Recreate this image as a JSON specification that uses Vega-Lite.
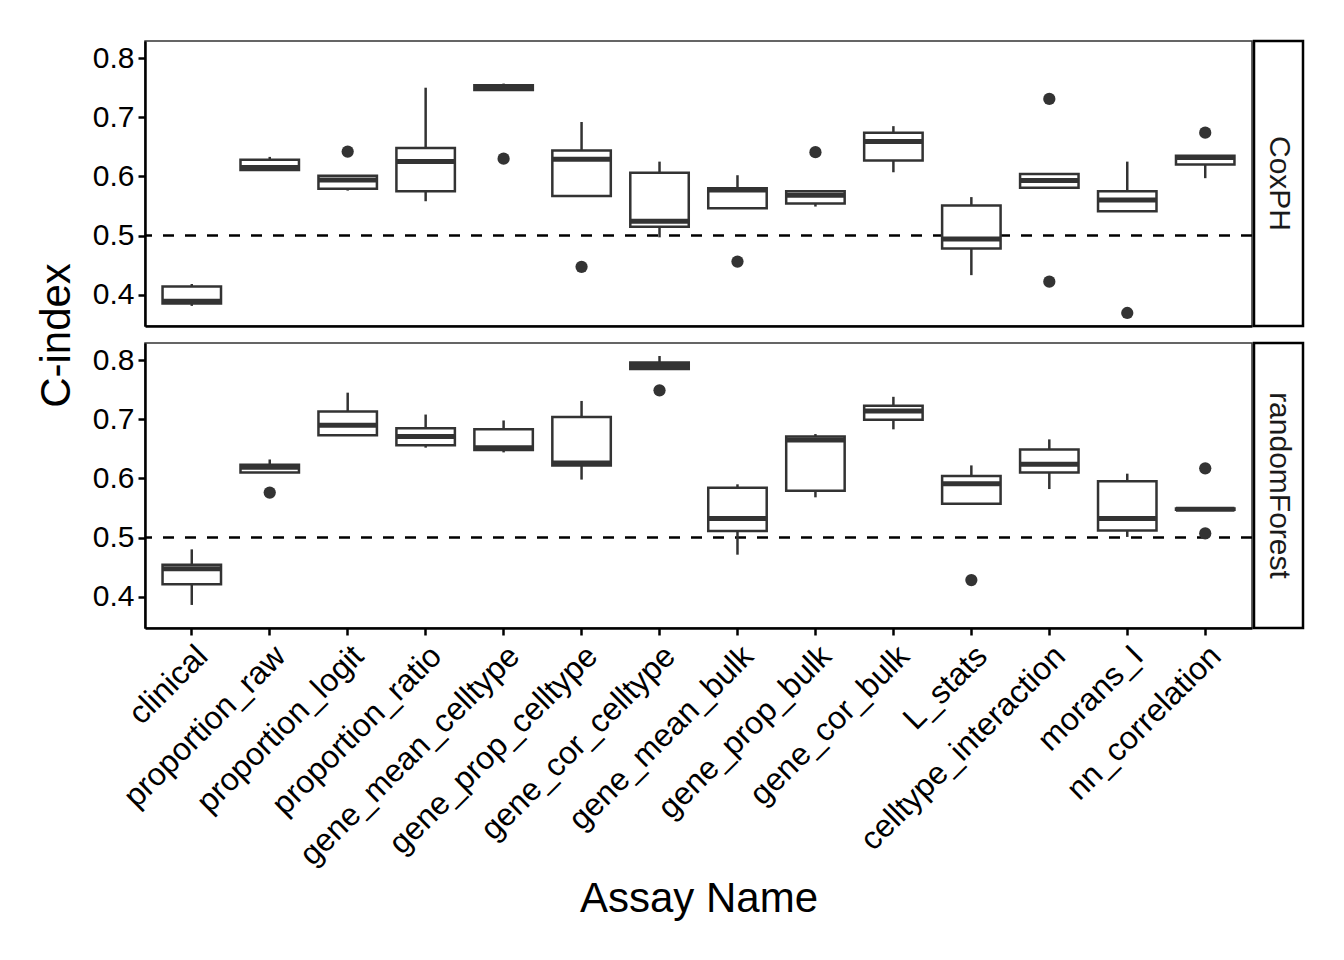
{
  "$schema": "https://vega.github.io/schema/vega-lite/v6.json",
  "autosize": {"type": "pad"},
  "padding": {"left": 34, "top": 39, "right": 5, "bottom": 5},
  "background": "white",
  "datasets": {
    "stats": [
      {"model": "CoxPH", "assay": "clinical", "lower": 0.381, "q1": 0.385, "median": 0.389, "q3": 0.414, "upper": 0.418},
      {"model": "CoxPH", "assay": "proportion_raw", "lower": 0.611, "q1": 0.611, "median": 0.615, "q3": 0.628, "upper": 0.633},
      {"model": "CoxPH", "assay": "proportion_logit", "lower": 0.576, "q1": 0.579, "median": 0.594, "q3": 0.601, "upper": 0.601},
      {"model": "CoxPH", "assay": "proportion_ratio", "lower": 0.558, "q1": 0.575, "median": 0.625, "q3": 0.648, "upper": 0.75},
      {"model": "CoxPH", "assay": "gene_mean_celltype", "lower": 0.746, "q1": 0.746, "median": 0.75, "q3": 0.754, "upper": 0.757},
      {"model": "CoxPH", "assay": "gene_prop_celltype", "lower": 0.567, "q1": 0.567, "median": 0.629, "q3": 0.644, "upper": 0.692},
      {"model": "CoxPH", "assay": "gene_cor_celltype", "lower": 0.497, "q1": 0.515, "median": 0.524, "q3": 0.606, "upper": 0.625},
      {"model": "CoxPH", "assay": "gene_mean_bulk", "lower": 0.546, "q1": 0.546, "median": 0.577, "q3": 0.58, "upper": 0.602},
      {"model": "CoxPH", "assay": "gene_prop_bulk", "lower": 0.549, "q1": 0.554, "median": 0.568, "q3": 0.575, "upper": 0.575},
      {"model": "CoxPH", "assay": "gene_cor_bulk", "lower": 0.607, "q1": 0.627, "median": 0.659, "q3": 0.674, "upper": 0.685},
      {"model": "CoxPH", "assay": "L_stats", "lower": 0.433, "q1": 0.478, "median": 0.494, "q3": 0.551, "upper": 0.565},
      {"model": "CoxPH", "assay": "celltype_interaction", "lower": 0.581, "q1": 0.581, "median": 0.593, "q3": 0.604, "upper": 0.604},
      {"model": "CoxPH", "assay": "morans_I", "lower": 0.541, "q1": 0.541, "median": 0.56, "q3": 0.575, "upper": 0.625},
      {"model": "CoxPH", "assay": "nn_correlation", "lower": 0.597, "q1": 0.62, "median": 0.632, "q3": 0.635, "upper": 0.635},
      {"model": "randomForest", "assay": "clinical", "lower": 0.386, "q1": 0.421, "median": 0.447, "q3": 0.454, "upper": 0.48},
      {"model": "randomForest", "assay": "proportion_raw", "lower": 0.61, "q1": 0.61, "median": 0.619, "q3": 0.623, "upper": 0.632},
      {"model": "randomForest", "assay": "proportion_logit", "lower": 0.673, "q1": 0.673, "median": 0.69, "q3": 0.713, "upper": 0.745},
      {"model": "randomForest", "assay": "proportion_ratio", "lower": 0.652, "q1": 0.656, "median": 0.671, "q3": 0.685, "upper": 0.708},
      {"model": "randomForest", "assay": "gene_mean_celltype", "lower": 0.644, "q1": 0.648, "median": 0.652, "q3": 0.683, "upper": 0.698},
      {"model": "randomForest", "assay": "gene_prop_celltype", "lower": 0.598, "q1": 0.622, "median": 0.626, "q3": 0.704, "upper": 0.731},
      {"model": "randomForest", "assay": "gene_cor_celltype", "lower": 0.785, "q1": 0.785, "median": 0.791, "q3": 0.796, "upper": 0.807},
      {"model": "randomForest", "assay": "gene_mean_bulk", "lower": 0.471, "q1": 0.511, "median": 0.532, "q3": 0.584, "upper": 0.59},
      {"model": "randomForest", "assay": "gene_prop_bulk", "lower": 0.568, "q1": 0.579, "median": 0.665, "q3": 0.671, "upper": 0.675},
      {"model": "randomForest", "assay": "gene_cor_bulk", "lower": 0.683, "q1": 0.699, "median": 0.714, "q3": 0.723, "upper": 0.738},
      {"model": "randomForest", "assay": "L_stats", "lower": 0.557, "q1": 0.557, "median": 0.591, "q3": 0.604, "upper": 0.622},
      {"model": "randomForest", "assay": "celltype_interaction", "lower": 0.582, "q1": 0.61, "median": 0.624, "q3": 0.649, "upper": 0.666},
      {"model": "randomForest", "assay": "morans_I", "lower": 0.501, "q1": 0.512, "median": 0.532, "q3": 0.595, "upper": 0.608},
      {"model": "randomForest", "assay": "nn_correlation", "lower": 0.547, "q1": 0.547, "median": 0.548, "q3": 0.549, "upper": 0.549}
    ],
    "outliers": [
      {"model": "CoxPH", "assay": "proportion_logit", "value": 0.642},
      {"model": "CoxPH", "assay": "gene_mean_celltype", "value": 0.63},
      {"model": "CoxPH", "assay": "gene_prop_celltype", "value": 0.447},
      {"model": "CoxPH", "assay": "gene_mean_bulk", "value": 0.456},
      {"model": "CoxPH", "assay": "gene_prop_bulk", "value": 0.641},
      {"model": "CoxPH", "assay": "celltype_interaction", "value": 0.731},
      {"model": "CoxPH", "assay": "celltype_interaction", "value": 0.422},
      {"model": "CoxPH", "assay": "morans_I", "value": 0.369},
      {"model": "CoxPH", "assay": "nn_correlation", "value": 0.674},
      {"model": "randomForest", "assay": "proportion_raw", "value": 0.576},
      {"model": "randomForest", "assay": "gene_cor_celltype", "value": 0.749},
      {"model": "randomForest", "assay": "L_stats", "value": 0.428},
      {"model": "randomForest", "assay": "nn_correlation", "value": 0.617},
      {"model": "randomForest", "assay": "nn_correlation", "value": 0.507}
    ],
    "models": [{"model": "CoxPH"}, {"model": "randomForest"}],
    "ref": [{"ref": 0.5}]
  },
  "config": {
    "font": "Liberation Sans",
    "view": {"stroke": "#333333", "strokeWidth": 1.5},
    "axis": {"grid": false, "domainColor": "black", "domainWidth": 2.5, "tickColor": "black", "tickWidth": 2.5, "tickSize": 7, "labelColor": "black", "labelFontSize": 30, "titleColor": "black", "titleFontSize": 42, "titleFontWeight": "normal", "labelFont": "Liberation Sans", "titleFont": "Liberation Sans"},
    "axisX": {"labelAngle": -45, "labelAlign": "right", "labelBaseline": "top", "labelPadding": 5, "titlePadding": 50, "labelLimit": 0, "labelFontSize": 32},
    "axisY": {"labelPadding": 4, "titlePadding": 14}
  },
  "columns": 2,
  "spacing": {"row": 17, "column": 2},
  "bounds": "flush",
  "concat": [
    {
      "width": 1107,
      "height": 285,
      "layer": [
        {
          "data": {"name": "ref"},
          "mark": {"type": "rule", "color": "black", "strokeWidth": 2.5, "strokeDash": [11, 11]},
          "encoding": {"y": {"field": "ref", "type": "quantitative", "scale": {"domain": [0.347, 0.829], "nice": false, "zero": false}, "axis": {"values": [0.4, 0.5, 0.6, 0.7, 0.8], "format": ".1f", "titleY": 294}, "title": "C-index"}}
        },
        {
          "data": {"name": "stats"},
          "transform": [{"filter": "datum.model === 'CoxPH'"}],
          "mark": {"type": "rule", "color": "#333333", "strokeWidth": 2.5},
          "encoding": {
            "x": {"field": "assay", "type": "nominal", "scale": {"type": "band", "domain": ["clinical", "proportion_raw", "proportion_logit", "proportion_ratio", "gene_mean_celltype", "gene_prop_celltype", "gene_cor_celltype", "gene_mean_bulk", "gene_prop_bulk", "gene_cor_bulk", "L_stats", "celltype_interaction", "morans_I", "nn_correlation"], "paddingInner": 0, "paddingOuter": 0.1}, "axis": {"labels": false, "ticks": false}, "title": null},
            "y": {"field": "lower", "type": "quantitative", "scale": {"domain": [0.347, 0.829], "nice": false, "zero": false}, "axis": {"values": [0.4, 0.5, 0.6, 0.7, 0.8], "format": ".1f", "titleY": 294}, "title": "C-index"},
            "y2": {"field": "upper"}
          }
        },
        {
          "data": {"name": "stats"},
          "transform": [{"filter": "datum.model === 'CoxPH'"}],
          "mark": {"type": "bar", "fill": "white", "stroke": "#333333", "strokeWidth": 2.5, "width": {"band": 0.75}},
          "encoding": {
            "x": {"field": "assay", "type": "nominal", "scale": {"type": "band", "domain": ["clinical", "proportion_raw", "proportion_logit", "proportion_ratio", "gene_mean_celltype", "gene_prop_celltype", "gene_cor_celltype", "gene_mean_bulk", "gene_prop_bulk", "gene_cor_bulk", "L_stats", "celltype_interaction", "morans_I", "nn_correlation"], "paddingInner": 0, "paddingOuter": 0.1}, "axis": {"labels": false, "ticks": false}, "title": null},
            "y": {"field": "q1", "type": "quantitative", "scale": {"domain": [0.347, 0.829], "nice": false, "zero": false}, "axis": {"values": [0.4, 0.5, 0.6, 0.7, 0.8], "format": ".1f", "titleY": 294}, "title": "C-index"},
            "y2": {"field": "q3"}
          }
        },
        {
          "data": {"name": "stats"},
          "transform": [{"filter": "datum.model === 'CoxPH'"}],
          "mark": {"type": "tick", "color": "#333333", "size": 58.5, "thickness": 5, "opacity": 1},
          "encoding": {
            "x": {"field": "assay", "type": "nominal", "scale": {"type": "band", "domain": ["clinical", "proportion_raw", "proportion_logit", "proportion_ratio", "gene_mean_celltype", "gene_prop_celltype", "gene_cor_celltype", "gene_mean_bulk", "gene_prop_bulk", "gene_cor_bulk", "L_stats", "celltype_interaction", "morans_I", "nn_correlation"], "paddingInner": 0, "paddingOuter": 0.1}, "axis": {"labels": false, "ticks": false}, "title": null},
            "y": {"field": "median", "type": "quantitative", "scale": {"domain": [0.347, 0.829], "nice": false, "zero": false}, "axis": {"values": [0.4, 0.5, 0.6, 0.7, 0.8], "format": ".1f", "titleY": 294}, "title": "C-index"}
          }
        },
        {
          "data": {"name": "outliers"},
          "transform": [{"filter": "datum.model === 'CoxPH'"}],
          "mark": {"type": "point", "filled": true, "color": "#333333", "size": 150, "opacity": 1},
          "encoding": {
            "x": {"field": "assay", "type": "nominal", "scale": {"type": "band", "domain": ["clinical", "proportion_raw", "proportion_logit", "proportion_ratio", "gene_mean_celltype", "gene_prop_celltype", "gene_cor_celltype", "gene_mean_bulk", "gene_prop_bulk", "gene_cor_bulk", "L_stats", "celltype_interaction", "morans_I", "nn_correlation"], "paddingInner": 0, "paddingOuter": 0.1}, "axis": {"labels": false, "ticks": false}, "title": null},
            "y": {"field": "value", "type": "quantitative", "scale": {"domain": [0.347, 0.829], "nice": false, "zero": false}, "axis": {"values": [0.4, 0.5, 0.6, 0.7, 0.8], "format": ".1f", "titleY": 294}, "title": "C-index"}
          }
        }
      ]
    },
    {
      "width": 49,
      "height": 285,
      "view": {"stroke": "black", "strokeWidth": 2.5, "fill": "white"},
      "data": {"name": "models"},
      "transform": [{"filter": "datum.model === 'CoxPH'"}],
      "mark": {"type": "text", "angle": 90, "fontSize": 30, "color": "#1a1a1a", "font": "Liberation Sans"},
      "encoding": {"text": {"field": "model", "type": "nominal"}}
    },
    {
      "width": 1107,
      "height": 285,
      "layer": [
        {
          "data": {"name": "ref"},
          "mark": {"type": "rule", "color": "black", "strokeWidth": 2.5, "strokeDash": [11, 11]},
          "encoding": {"y": {"field": "ref", "type": "quantitative", "scale": {"domain": [0.347, 0.829], "nice": false, "zero": false}, "axis": {"values": [0.4, 0.5, 0.6, 0.7, 0.8], "format": ".1f"}, "title": null}}
        },
        {
          "data": {"name": "stats"},
          "transform": [{"filter": "datum.model === 'randomForest'"}],
          "mark": {"type": "rule", "color": "#333333", "strokeWidth": 2.5},
          "encoding": {
            "x": {"field": "assay", "type": "nominal", "scale": {"type": "band", "domain": ["clinical", "proportion_raw", "proportion_logit", "proportion_ratio", "gene_mean_celltype", "gene_prop_celltype", "gene_cor_celltype", "gene_mean_bulk", "gene_prop_bulk", "gene_cor_bulk", "L_stats", "celltype_interaction", "morans_I", "nn_correlation"], "paddingInner": 0, "paddingOuter": 0.1}, "title": "Assay Name"},
            "y": {"field": "lower", "type": "quantitative", "scale": {"domain": [0.347, 0.829], "nice": false, "zero": false}, "axis": {"values": [0.4, 0.5, 0.6, 0.7, 0.8], "format": ".1f"}, "title": null},
            "y2": {"field": "upper"}
          }
        },
        {
          "data": {"name": "stats"},
          "transform": [{"filter": "datum.model === 'randomForest'"}],
          "mark": {"type": "bar", "fill": "white", "stroke": "#333333", "strokeWidth": 2.5, "width": {"band": 0.75}},
          "encoding": {
            "x": {"field": "assay", "type": "nominal", "scale": {"type": "band", "domain": ["clinical", "proportion_raw", "proportion_logit", "proportion_ratio", "gene_mean_celltype", "gene_prop_celltype", "gene_cor_celltype", "gene_mean_bulk", "gene_prop_bulk", "gene_cor_bulk", "L_stats", "celltype_interaction", "morans_I", "nn_correlation"], "paddingInner": 0, "paddingOuter": 0.1}, "title": "Assay Name"},
            "y": {"field": "q1", "type": "quantitative", "scale": {"domain": [0.347, 0.829], "nice": false, "zero": false}, "axis": {"values": [0.4, 0.5, 0.6, 0.7, 0.8], "format": ".1f"}, "title": null},
            "y2": {"field": "q3"}
          }
        },
        {
          "data": {"name": "stats"},
          "transform": [{"filter": "datum.model === 'randomForest'"}],
          "mark": {"type": "tick", "color": "#333333", "size": 58.5, "thickness": 5, "opacity": 1},
          "encoding": {
            "x": {"field": "assay", "type": "nominal", "scale": {"type": "band", "domain": ["clinical", "proportion_raw", "proportion_logit", "proportion_ratio", "gene_mean_celltype", "gene_prop_celltype", "gene_cor_celltype", "gene_mean_bulk", "gene_prop_bulk", "gene_cor_bulk", "L_stats", "celltype_interaction", "morans_I", "nn_correlation"], "paddingInner": 0, "paddingOuter": 0.1}, "title": "Assay Name"},
            "y": {"field": "median", "type": "quantitative", "scale": {"domain": [0.347, 0.829], "nice": false, "zero": false}, "axis": {"values": [0.4, 0.5, 0.6, 0.7, 0.8], "format": ".1f"}, "title": null}
          }
        },
        {
          "data": {"name": "outliers"},
          "transform": [{"filter": "datum.model === 'randomForest'"}],
          "mark": {"type": "point", "filled": true, "color": "#333333", "size": 150, "opacity": 1},
          "encoding": {
            "x": {"field": "assay", "type": "nominal", "scale": {"type": "band", "domain": ["clinical", "proportion_raw", "proportion_logit", "proportion_ratio", "gene_mean_celltype", "gene_prop_celltype", "gene_cor_celltype", "gene_mean_bulk", "gene_prop_bulk", "gene_cor_bulk", "L_stats", "celltype_interaction", "morans_I", "nn_correlation"], "paddingInner": 0, "paddingOuter": 0.1}, "title": "Assay Name"},
            "y": {"field": "value", "type": "quantitative", "scale": {"domain": [0.347, 0.829], "nice": false, "zero": false}, "axis": {"values": [0.4, 0.5, 0.6, 0.7, 0.8], "format": ".1f"}, "title": null}
          }
        }
      ]
    },
    {
      "width": 49,
      "height": 285,
      "view": {"stroke": "black", "strokeWidth": 2.5, "fill": "white"},
      "data": {"name": "models"},
      "transform": [{"filter": "datum.model === 'randomForest'"}],
      "mark": {"type": "text", "angle": 90, "fontSize": 30, "color": "#1a1a1a", "font": "Liberation Sans"},
      "encoding": {"text": {"field": "model", "type": "nominal"}}
    }
  ]
}
